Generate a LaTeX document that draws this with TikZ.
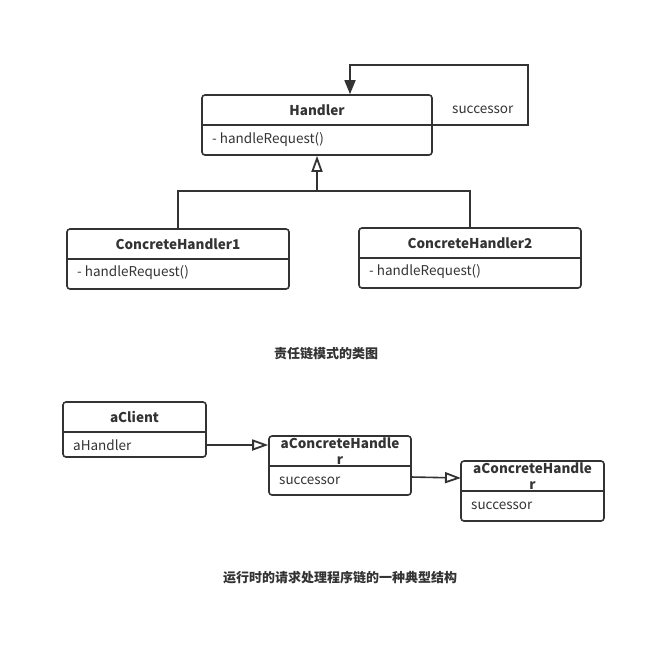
\documentclass[tikz,border=0pt]{standalone}
\usepackage{fontspec}
\setmainfont{Noto Sans CJK SC}
\usetikzlibrary{arrows.meta}
\definecolor{ln}{HTML}{333333}
\tikzset{
  umlbox/.style={draw=ln, line width=1.6pt, rounded corners=3pt, inner sep=0pt},
  ttl/.style={font=\fontsize{13.5}{16}\selectfont\bfseries, text=ln, inner sep=0pt},
  attr/.style={font=\fontsize{13.5}{16}\selectfont, text=ln, inner sep=0pt, anchor=west},
  captxt/.style={font=\fontsize{13}{16}\selectfont\bfseries, text=ln, inner sep=0pt},
  divl/.style={draw=ln, line width=1.6pt},
  conn/.style={draw=ln, line width=1.6pt},
  opentri/.style={-{Triangle[open, length=16pt, width=11pt, line width=1.8pt]}},
  filltri/.style={-{Triangle[length=14pt, width=11pt]}}
}
\begin{document}
\begin{tikzpicture}[x=1pt,y=-1pt]
\useasboundingbox (0,0) rectangle (666,657);
% Handler
\node[umlbox, minimum width=230pt, minimum height=60pt] (h) at (317,125) {};
\node[ttl] (ht) at (317,110) {Handler};
\node[attr] (ha) at (212,140) {- handleRequest()};
\draw[divl] (h.west) -- (h.east);
% ConcreteHandler1
\node[umlbox, minimum width=222pt, minimum height=60pt] (c1) at (178,259) {};
\node[ttl] (c1t) at (178,244) {ConcreteHandler1};
\node[attr] (c1a) at (77,273) {- handleRequest()};
\draw[divl] (c1.west) -- (c1.east);
% ConcreteHandler2
\node[umlbox, minimum width=222pt, minimum height=60pt] (c2) at (470,258) {};
\node[ttl] (c2t) at (470,243) {ConcreteHandler2};
\node[attr] (c2a) at (369,272) {- handleRequest()};
\draw[divl] (c2.west) -- (c2.east);
% self loop
\coordinate (l1) at (528,125);
\coordinate (l2) at (528,65);
\coordinate (l3) at (350,65);
\draw[conn, filltri] (h.east) -- (l1) -- (l2) -- (l3) -- (h.north -| l3);
\node[attr] (succ) at (452,110) {successor};
% inheritance
\coordinate (j) at (317,191);
\draw[conn] (c1.north) |- (j) -| (c2.north);
\draw[conn, opentri] (j) -- (h.south);
% caption 1
\node[captxt] (cap1) at (326,354) {责任链模式的类图};
% aClient
\node[umlbox, minimum width=143pt, minimum height=55pt] (ac) at (134.5,429.5) {};
\node[ttl] (act) at (134.5,417) {aClient};
\node[attr] (aca) at (73,445) {aHandler};
\draw[divl] (63,432) -- (206,432);
% aConcreteHandler 1
\node[umlbox, minimum width=142pt, minimum height=59pt] (b1) at (340,465.5) {};
\node[ttl, align=center] (b1t) at (340,451) {aConcreteHandle\\r};
\node[attr] (b1a) at (279,481) {successor};
\draw[divl] (269,466) -- (411,466);
% aConcreteHandler 2
\node[umlbox, minimum width=143pt, minimum height=60pt] (b2) at (532.5,491) {};
\node[ttl, align=center] (b2t) at (532.5,476) {aConcreteHandle\\r};
\node[attr] (b2a) at (471,506) {successor};
\draw[divl] (461,491) -- (604,491);
% links
\coordinate (s2) at (411,477);
\coordinate (e2) at (461,478);
\draw[conn, opentri] (ac.east |- aca) -- (b1.west |- aca);
\draw[conn, opentri] (s2) -- (e2);
% caption 2
\node[captxt] (cap2) at (340,578) {运行时的请求处理程序链的一种典型结构};
\end{tikzpicture}
\end{document}
